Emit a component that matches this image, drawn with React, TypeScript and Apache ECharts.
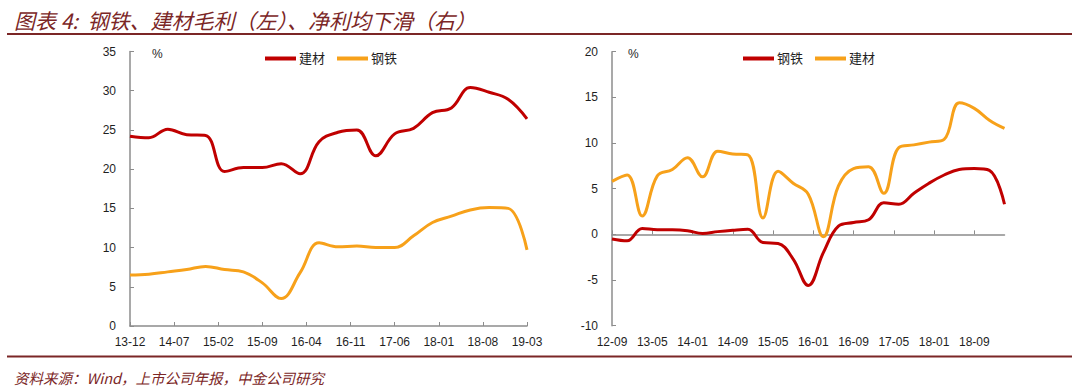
import React, { useEffect, useRef } from "react";
import * as echarts from "echarts";

// ---------- data ----------
const leftQuarters = ["13-12","14-03","14-06","14-09","14-12","15-03","15-06","15-09","15-12","16-03","16-06","16-09","16-12","17-03","17-06","17-09","17-12","18-03","18-06","18-09","18-12","19-03"];
const buildingGross = [24.2, 24.0, 25.1, 24.4, 24.3, 19.7, 20.2, 20.2, 20.7, 19.4, 23.5, 24.7, 25.0, 21.7, 24.5, 25.2, 27.2, 27.8, 30.4, 29.8, 28.9, 26.4];
const steelGross = [6.5, 6.6, 6.9, 7.2, 7.6, 7.2, 6.9, 5.5, 3.5, 6.8, 10.6, 10.1, 10.2, 10.0, 10.0, 11.5, 13.2, 14.0, 14.8, 15.1, 15.0, 9.7];

const rightQuarters = ["12-09","12-12","13-03","13-06","13-09","13-12","14-03","14-06","14-09","14-12","15-03","15-06","15-09","15-12","16-03","16-06","16-09","16-12","17-03","17-06","17-09","17-12","18-03","18-06","18-09","18-12","19-03"];
const steelNet = [-0.5, -0.7, 0.65, 0.5, 0.5, 0.4, 0.1, 0.3, 0.45, 0.55, -0.9, -1.0, -2.7, -5.6, -2.0, 0.9, 1.3, 1.6, 3.45, 3.3, 4.5, 5.6, 6.5, 7.1, 7.2, 7.0, 3.3];
const buildingNet = [5.8, 6.5, 2.0, 6.4, 7.1, 8.4, 6.3, 9.1, 8.8, 8.7, 1.8, 6.9, 5.6, 4.4, -0.25, 5.3, 7.2, 7.4, 4.5, 9.5, 9.8, 10.1, 10.4, 14.4, 13.8, 12.5, 11.6];

const titleText = "图表 4:  钢铁、建材毛利（左）、净利均下滑（右）";
const sourceText = "资料来源：Wind，上市公司年报，中金公司研究";

function monthLabels(startY: number, startM: number, count: number): string[] {
  const out: string[] = [];
  let y = startY, m = startM;
  for (let i = 0; i < count; i++) {
    out.push(String(y).padStart(2, "0") + "-" + String(m).padStart(2, "0"));
    m++;
    if (m > 12) { m = 1; y++; }
  }
  return out;
}
const leftMonths = monthLabels(13, 12, 64);
const rightMonths = monthLabels(12, 9, 79);

const RED = "#C00000";
const ORANGE = "#F7A11A";
const AXIS = "#8c8c8c";
const TEXT = "#1f1f1f";
const BRAND = "#7b2626";
const FONT = "'Liberation Sans', 'Noto Sans CJK SC', sans-serif";

function pairs(cats: string[], vals: number[]) {
  return cats.map((c, i) => [c, vals[i]]);
}

function lineSeries(name: string, color: string, data: any[], xIdx = 0) {
  return {
    name,
    type: "line",
    xAxisIndex: xIdx,
    data,
    smooth: 0.4,
    showSymbol: false,
    symbol: "none",
    lineStyle: { color, width: 3 },
    itemStyle: { color },
  };
}

function legendCfg(left: number, names: string[]) {
  return {
    left,
    top: 47,
    itemWidth: 31,
    itemHeight: 4,
    itemGap: 12,
    icon: "rect",
    data: names,
    textStyle: { fontSize: 13, color: TEXT, fontFamily: FONT, padding: [0, 0, 0, -2] },
  };
}

export default function App() {
  const leftRef = useRef<HTMLDivElement>(null);
  const rightRef = useRef<HTMLDivElement>(null);

  useEffect(() => {
    const a = echarts.init(leftRef.current!, undefined, { renderer: "svg" });
    const b = echarts.init(rightRef.current!, undefined, { renderer: "svg" });

    a.setOption({
      animation: false,
      textStyle: { fontFamily: FONT },
      grid: { left: 130, right: 553, top: 51.5, bottom: 66, containLabel: false },
      legend: legendCfg(260, ["建材", "钢铁"]),
      xAxis: {
        type: "category",
        data: leftMonths,
        boundaryGap: false,
        axisLine: { lineStyle: { color: AXIS, width: 1.5 } },
        axisTick: { inside: true, length: 4, interval: 6, lineStyle: { color: AXIS } },
        axisLabel: { interval: 6, color: TEXT, fontSize: 12, margin: 10, fontFamily: FONT },
      },
      yAxis: {
        type: "value",
        min: 0, max: 35, interval: 5,
        splitLine: { show: false },
        axisLine: { show: true, lineStyle: { color: AXIS, width: 1.5 } },
        axisTick: { show: true, inside: true, length: 4, lineStyle: { color: AXIS } },
        axisLabel: { color: TEXT, fontSize: 12, margin: 14, fontFamily: FONT },
      },
      series: [
        lineSeries("建材", RED, pairs(leftQuarters, buildingGross)),
        lineSeries("钢铁", ORANGE, pairs(leftQuarters, steelGross)),
      ],
      graphic: [
        { type: "text", left: 14, top: 9, style: { text: titleText, fill: BRAND, font: "italic 21px 'Noto Sans CJK SC', sans-serif" } },
        { type: "line", shape: { x1: 7, y1: 34, x2: 1072, y2: 34 }, style: { stroke: BRAND, lineWidth: 2 } },
        { type: "line", shape: { x1: 7, y1: 356.5, x2: 1072, y2: 356.5 }, style: { stroke: BRAND, lineWidth: 2 } },
        { type: "text", left: 14, top: 370, style: { text: sourceText, fill: BRAND, font: "italic 14.5px 'Noto Sans CJK SC', sans-serif" } },
        { type: "text", x: 152, y: 54, style: { text: "%", fill: TEXT, font: "12px 'Liberation Sans'", textVerticalAlign: "middle" } },
      ],
    });

    b.setOption({
      animation: false,
      textStyle: { fontFamily: FONT },
      grid: { left: 72, right: 75.5, top: 51.7, bottom: 66.3, containLabel: false },
      legend: legendCfg(198, ["钢铁", "建材"]),
      xAxis: [
        {
          type: "category",
          data: rightMonths,
          boundaryGap: false,
          position: "bottom",
          axisLine: { show: false, onZero: false },
          axisTick: { show: false },
          axisLabel: { interval: 7, color: TEXT, fontSize: 12, margin: 10, fontFamily: FONT },
        },
        {
          type: "category",
          data: rightMonths,
          boundaryGap: false,
          position: "top",
          axisLine: { show: true, onZero: true, lineStyle: { color: AXIS, width: 1.5 } },
          axisTick: { show: true, inside: false, length: 4, interval: 7, lineStyle: { color: AXIS } },
          axisLabel: { show: false },
        },
      ],
      yAxis: {
        type: "value",
        min: -10, max: 20, interval: 5,
        splitLine: { show: false },
        axisLine: { show: true, onZero: false, lineStyle: { color: AXIS, width: 1.5 } },
        axisTick: { show: true, inside: true, length: 4, lineStyle: { color: AXIS } },
        axisLabel: { color: TEXT, fontSize: 12, margin: 14, fontFamily: FONT },
      },
      series: [
        lineSeries("钢铁", RED, pairs(rightQuarters, steelNet)),
        lineSeries("建材", ORANGE, pairs(rightQuarters, buildingNet)),
      ],
      graphic: [
        { type: "text", x: 88, y: 54, style: { text: "%", fill: TEXT, font: "12px 'Liberation Sans'", textVerticalAlign: "middle" } },
      ],
    });

    return () => {
      a.dispose();
      b.dispose();
    };
  }, []);

  return (
    <div style={{ position: "absolute", left: 0, top: 0, width: 1080, height: 392, background: "#fff" }}>
      <div ref={leftRef} style={{ position: "absolute", left: 0, top: 0, width: 1080, height: 392 }} />
      <div ref={rightRef} style={{ position: "absolute", left: 540, top: 0, width: 540, height: 392 }} />
    </div>
  );
}
